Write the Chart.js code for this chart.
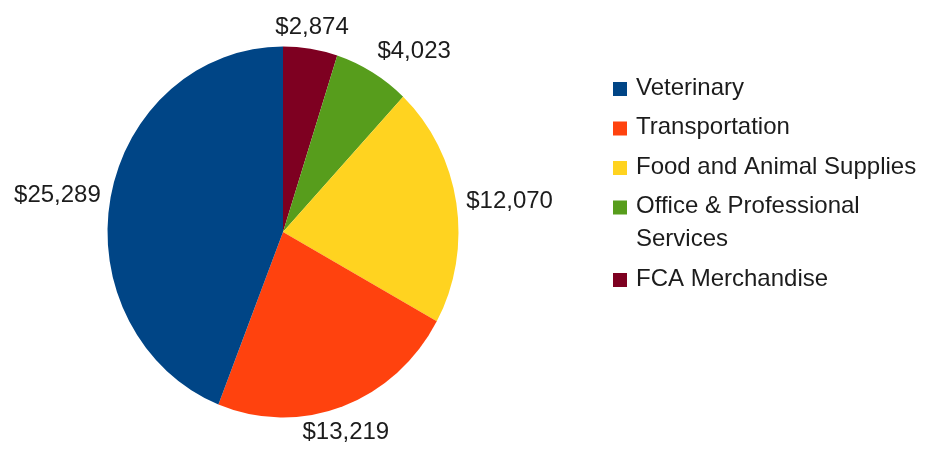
<!DOCTYPE html>
<html>
<head>
<meta charset="utf-8">
<script src="https://cdn.jsdelivr.net/npm/chart.js@4.4.0/dist/chart.umd.min.js"></script>
<style>
  body { margin: 0; background: #fff; }
  canvas { display: block; }
</style>
</head>
<body>
<canvas id="myChart" width="929" height="449"></canvas>
<script>
'use strict';

// legend order (top to bottom)
const categories = ['Veterinary', 'Transportation', 'Food and Animal Supplies', 'Office & Professional Services', 'FCA Merchandise'];
const amounts = [25289, 13219, 12070, 4023, 2874];
const sliceColors = ['#004586', '#ff420e', '#ffd320', '#579d1c', '#7e0021'];

const FONT = '24px "Liberation Sans", Arial, sans-serif';
const TEXT_COLOR = '#1c1c1c';
const Y_STRETCH = 185.5 / 175.5; // reference pie is a bit taller than wide

function money(v) {
  return '$' + v.toLocaleString('en-US');
}

// pie is drawn clockwise from the top, the reference goes the other way -> reverse
const pieLabels = categories.slice().reverse();
const pieData = amounts.slice().reverse();
const pieColors = sliceColors.slice().reverse();

const stretchPlugin = {
  id: 'stretch',
  beforeDatasetsDraw(chart) {
    const arc = chart.getDatasetMeta(0).data[0];
    const ctx = chart.ctx;
    ctx.save();
    ctx.translate(arc.x, arc.y);
    ctx.scale(1, Y_STRETCH);
    ctx.translate(-arc.x, -arc.y);
  },
  afterDatasetsDraw(chart) {
    chart.ctx.restore();
  }
};

const valueLabels = {
  id: 'valueLabels',
  afterDatasetsDraw(chart) {
    const ctx = chart.ctx;
    const arcs = chart.getDatasetMeta(0).data;
    ctx.save();
    ctx.font = FONT;
    ctx.fillStyle = TEXT_COLOR;
    arcs.forEach((arc, i) => {
      const mid = (arc.startAngle + arc.endAngle) / 2;
      const gap = 10;
      const x = arc.x + Math.cos(mid) * (arc.outerRadius + gap);
      let y = arc.y + Math.sin(mid) * (arc.outerRadius * Y_STRETCH + gap);
      let deg = mid * 180 / Math.PI;
      deg = ((deg % 360) + 360) % 360;
      // 8 sectors, like an office suite places outside labels
      let align, base;
      if (deg >= 337.5 || deg < 22.5) { align = 'left'; base = 'middle'; }
      else if (deg < 67.5) { align = 'left'; base = 'top'; }
      else if (deg < 112.5) { align = 'center'; base = 'top'; }
      else if (deg < 157.5) { align = 'right'; base = 'top'; }
      else if (deg < 202.5) { align = 'right'; base = 'middle'; }
      else if (deg < 247.5) { align = 'right'; base = 'bottom'; }
      else if (deg < 292.5) { align = 'center'; base = 'bottom'; }
      else { align = 'left'; base = 'bottom'; }
      if (base === 'top') y += 4;
      ctx.textAlign = align;
      ctx.textBaseline = base;
      ctx.fillText(money(pieData[i]), x, y);
    });
    ctx.restore();
  }
};

function wrapText(ctx, text, maxWidth) {
  const words = text.split(' ');
  const lines = [];
  let line = '';
  words.forEach(w => {
    const test = line ? line + ' ' + w : w;
    if (ctx.measureText(test).width > maxWidth && line) {
      lines.push(line);
      line = w;
    } else {
      line = test;
    }
  });
  lines.push(line);
  return lines;
}

const sideLegend = {
  id: 'sideLegend',
  afterDraw(chart) {
    const ctx = chart.ctx;
    const boxX = 613, textX = 636, box = 14;
    const rowGap = 39.5, lineH = 33;
    let y = 88;
    ctx.save();
    ctx.font = FONT;
    ctx.textAlign = 'left';
    ctx.textBaseline = 'middle';
    categories.forEach((name, i) => {
      ctx.fillStyle = sliceColors[i];
      ctx.fillRect(boxX, y - box / 2 + 1, box, box);
      ctx.fillStyle = TEXT_COLOR;
      const lines = wrapText(ctx, name, 300);
      lines.forEach((ln, k) => {
        ctx.fillText(ln, textX, y + k * lineH);
      });
      y += (lines.length - 1) * lineH + rowGap;
    });
    ctx.restore();
  }
};

new Chart(document.getElementById('myChart'), {
  type: 'pie',
  data: {
    labels: pieLabels,
    datasets: [{
      data: pieData,
      backgroundColor: pieColors,
      borderWidth: 0,
      hoverOffset: 0,
      clip: false
    }]
  },
  options: {
    responsive: false,
    animation: false,
    layout: {
      padding: { left: 107.5, right: 470.5, top: 56.5, bottom: 41.5 }
    },
    plugins: {
      legend: { display: false },
      tooltip: { enabled: false }
    }
  },
  plugins: [stretchPlugin, valueLabels, sideLegend]
});
</script>
</body>
</html>
